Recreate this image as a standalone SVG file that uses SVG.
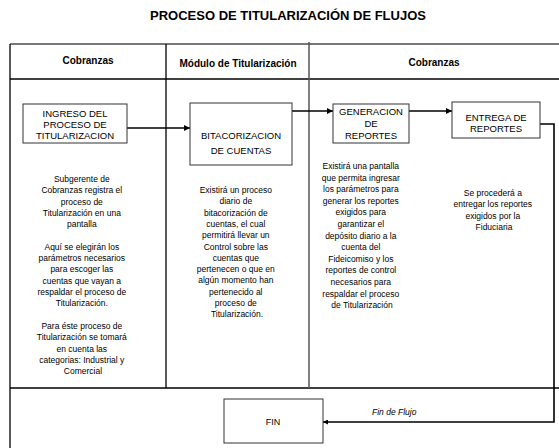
<svg xmlns="http://www.w3.org/2000/svg" width="559" height="448" viewBox="0 0 559 448">
<style>
text{font-family:"Liberation Sans",Arial,sans-serif;fill:#000}
.title{font-size:13px;font-weight:bold}
.hdr{font-size:10px;font-weight:bold}
.box{fill:#fff;stroke:#333;stroke-width:1}
.bt{font-size:9.5px}
.body{font-size:8.5px}
.grid{stroke:#000;stroke-width:1.3;fill:none}
.conn{stroke:#000;stroke-width:1.6;fill:none}
</style>
<defs>
<marker id="ah" viewBox="0 0 10 10" refX="10" refY="5" markerWidth="6" markerHeight="5" markerUnits="userSpaceOnUse" orient="auto"><path d="M0,0L10,5L0,10z" fill="#000"/></marker>
<marker id="ah2" viewBox="0 0 10 10" refX="10" refY="5" markerWidth="10" markerHeight="6" orient="auto" markerUnits="userSpaceOnUse"><path d="M0,0L10,5L0,10z" fill="#000"/></marker>
</defs>
<rect width="559" height="448" fill="#fff"/>
<text class="title" x="288" y="20" text-anchor="middle">PROCESO DE TITULARIZACIÓN DE FLUJOS</text>
<g id="lanes">
<line x1="10" y1="44" x2="559" y2="44" stroke="#777" stroke-width="2"/>
<line class="grid" x1="10" y1="79" x2="559" y2="79"/>
<line class="grid" x1="10" y1="388" x2="559" y2="388"/>
<line class="grid" x1="10" y1="44" x2="10" y2="448"/>
<line class="grid" x1="166" y1="44" x2="166" y2="388"/>
<line x1="309" y1="42" x2="309" y2="388" stroke="#555" stroke-width="1.5"/>
<text class="hdr" x="88" y="64" text-anchor="middle">Cobranzas</text>
<text class="hdr" x="238" y="67" text-anchor="middle">Módulo de Titularización</text>
<text class="hdr" x="434" y="66" text-anchor="middle">Cobranzas</text>
</g>
<g id="connectors">
<line class="conn" x1="127" y1="128" x2="190" y2="128" marker-end="url(#ah2)"/>
<line class="conn" x1="292" y1="111" x2="333" y2="111" marker-end="url(#ah2)"/>
<line class="conn" x1="409" y1="111" x2="452" y2="111" marker-end="url(#ah2)"/>
<polyline class="conn" points="540,124 554,124 554,422 323,422" stroke-width="1.3" marker-end="url(#ah)"/>
<text x="372" y="415" font-size="8.5" font-style="italic">Fin de Flujo</text>
</g>
<g id="ingreso">
<rect class="box" x="23" y="104" width="104" height="39"/>
<text class="bt" text-anchor="middle" x="75"><tspan x="75" y="117">INGRESO DEL</tspan><tspan x="75" y="128">PROCESO DE</tspan><tspan x="75" y="139">TITULARIZACION</tspan></text>
</g>
<g id="bitacorizacion">
<rect class="box" x="190" y="103" width="102" height="62"/>
<text class="bt" text-anchor="middle"><tspan x="241" y="139">BITACORIZACION</tspan><tspan x="241" y="154">DE CUENTAS</tspan></text>
</g>
<g id="generacion">
<rect class="box" x="333" y="104" width="76" height="39"/>
<text class="bt" text-anchor="middle"><tspan x="371" y="115">GENERACION</tspan><tspan x="371" y="127">DE</tspan><tspan x="371" y="139">REPORTES</tspan></text>
</g>
<g id="entrega">
<rect class="box" x="452" y="102" width="88" height="36"/>
<text class="bt" text-anchor="middle"><tspan x="496" y="121">ENTREGA DE</tspan><tspan x="496" y="132">REPORTES</tspan></text>
</g>
<g id="fin">
<rect class="box" x="224" y="399" width="99" height="44"/>
<text x="273" y="425" font-size="9" text-anchor="middle">FIN</text>
</g>
<g id="notes">
<text class="body" text-anchor="middle">
<tspan x="83" y="182">Subgerente de</tspan>
<tspan x="83" y="193.3">Cobranzas registra el</tspan>
<tspan x="83" y="204.6">proceso de</tspan>
<tspan x="83" y="215.9">Titularización en una</tspan>
<tspan x="83" y="227.2">pantalla</tspan>
<tspan x="83" y="249.8">Aquí se elegirán los</tspan>
<tspan x="83" y="261.1">parámetros necesarios</tspan>
<tspan x="83" y="272.4">para escoger las</tspan>
<tspan x="83" y="283.7">cuentas que vayan a</tspan>
<tspan x="83" y="295">respaldar el proceso de</tspan>
<tspan x="83" y="306.3">Titularización.</tspan>
<tspan x="83" y="328.9">Para éste proceso de</tspan>
<tspan x="83" y="340.2">Titularización se tomará</tspan>
<tspan x="83" y="351.5">en cuenta las</tspan>
<tspan x="83" y="362.8">categorias: Industrial y</tspan>
<tspan x="83" y="374.1">Comercial</tspan>
</text>
<text class="body" text-anchor="middle">
<tspan x="237" y="193">Existirá un proceso</tspan>
<tspan x="237" y="204.3">diario de</tspan>
<tspan x="237" y="215.6">bitacorización de</tspan>
<tspan x="237" y="226.9">cuentas, el cual</tspan>
<tspan x="237" y="238.2">permitirá llevar un</tspan>
<tspan x="237" y="249.5">Control sobre las</tspan>
<tspan x="237" y="260.8">cuentas que</tspan>
<tspan x="237" y="272.1">pertenecen o que en</tspan>
<tspan x="237" y="283.4">algún momento han</tspan>
<tspan x="237" y="294.7">pertenecido al</tspan>
<tspan x="237" y="306">proceso de</tspan>
<tspan x="237" y="317.3">Titularización.</tspan>
</text>
<text class="body" text-anchor="middle">
<tspan x="362" y="169">Existirá una pantalla</tspan>
<tspan x="362" y="180.6">que permita ingresar</tspan>
<tspan x="362" y="192.2">los parámetros para</tspan>
<tspan x="362" y="203.8">generar los reportes</tspan>
<tspan x="362" y="215.4">exigidos para</tspan>
<tspan x="362" y="227">garantizar el</tspan>
<tspan x="362" y="238.6">depósito diario a la</tspan>
<tspan x="362" y="250.2">cuenta del</tspan>
<tspan x="362" y="261.8">Fideicomiso y los</tspan>
<tspan x="362" y="273.4">reportes de control</tspan>
<tspan x="362" y="285">necesarios  para</tspan>
<tspan x="362" y="296.6">respaldar el proceso</tspan>
<tspan x="362" y="308.2">de Titularización</tspan>
</text>
<text class="body" text-anchor="middle">
<tspan x="494" y="196">Se procederá a</tspan>
<tspan x="494" y="207.3">entregar los reportes</tspan>
<tspan x="494" y="218.6">exigidos por la</tspan>
<tspan x="494" y="229.9">Fiduciaria</tspan>
</text>
</g>
</svg>
